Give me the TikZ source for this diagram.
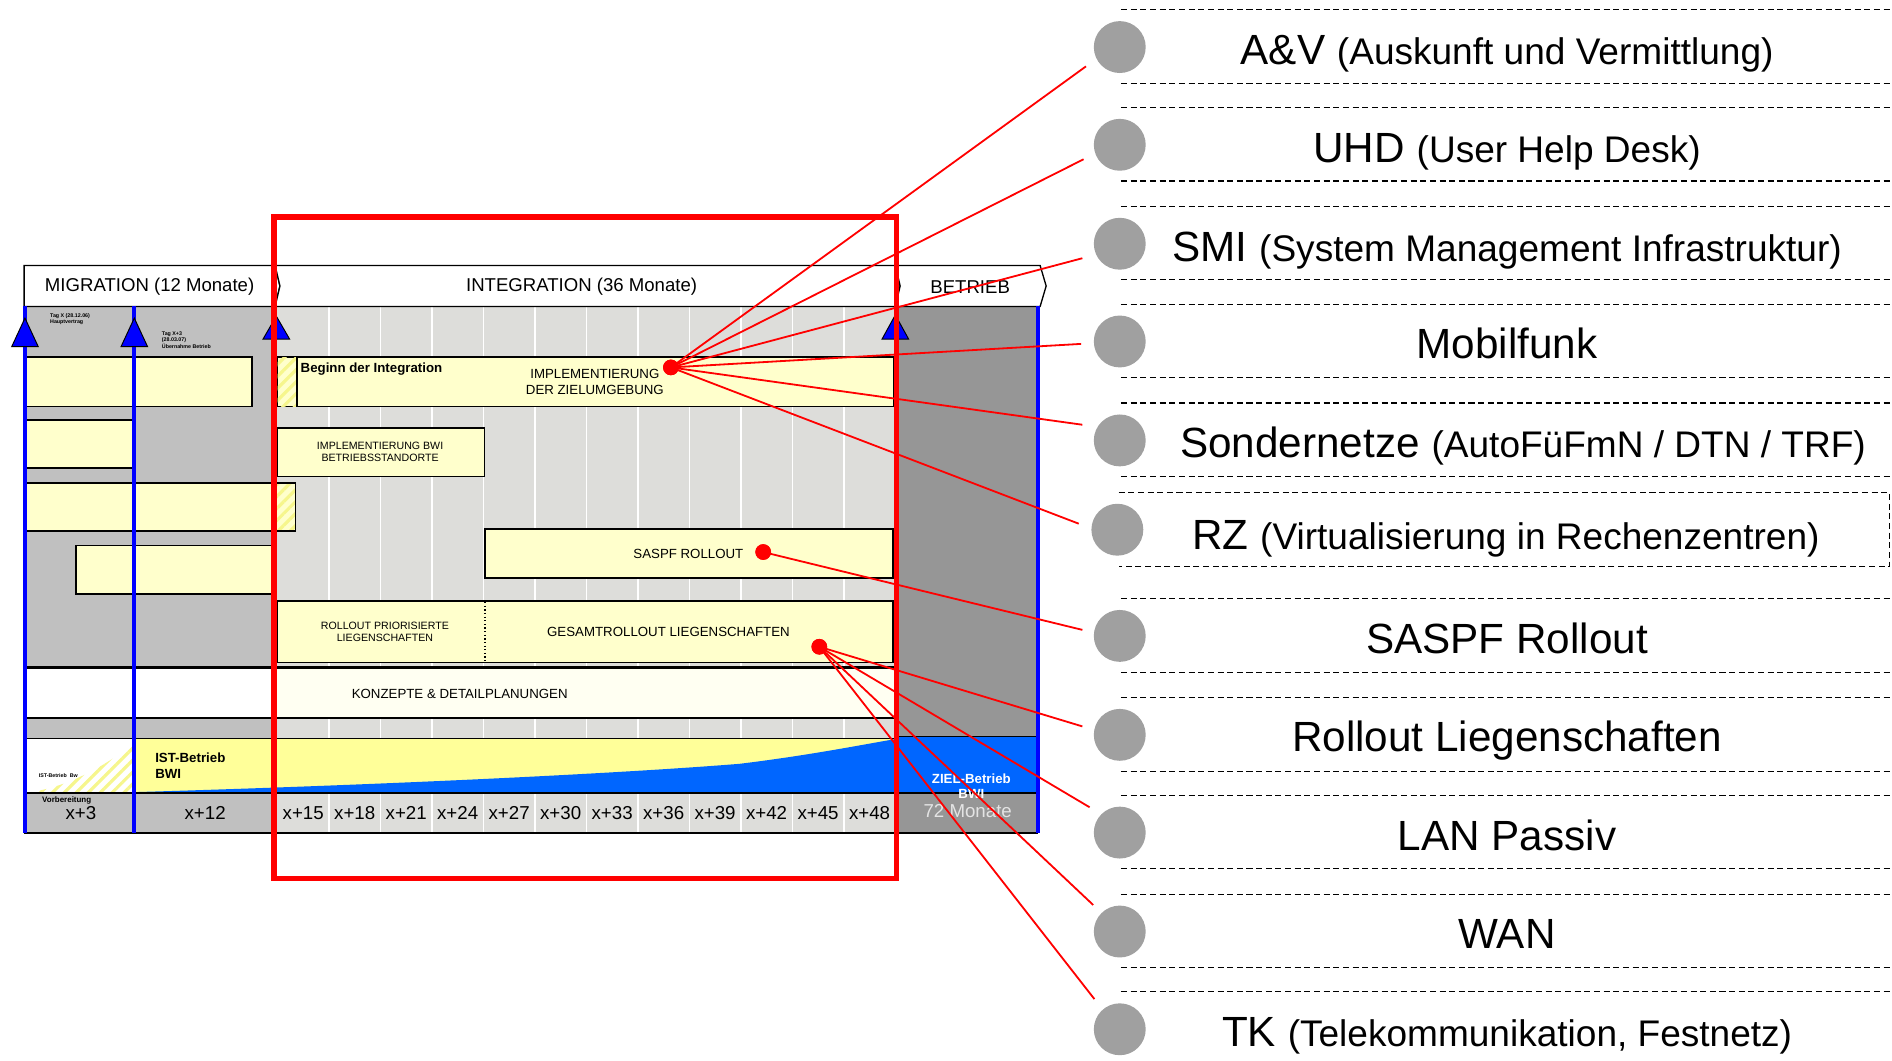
\documentclass[tikz,border=0pt]{standalone}
\usepackage{fontspec}
\setmainfont{Liberation Sans}
\usetikzlibrary{patterns.meta}
\definecolor{boxyel}{HTML}{FFFFCC}
\definecolor{istyel}{HTML}{FFFF99}
\definecolor{miggray}{HTML}{C0C0C0}
\definecolor{intgray}{HTML}{DDDDDA}
\definecolor{betgray}{HTML}{969696}
\definecolor{areablue}{HTML}{0066FF}
\definecolor{lineblue}{HTML}{0000FF}
\definecolor{dotgray}{HTML}{A0A0A0}
\definecolor{hatchyel}{HTML}{F6F68C}
\definecolor{konzyel}{HTML}{FFFFF2}
\definecolor{monate}{HTML}{E4E4E4}
\newcommand\setfs[1]{\fontsize{#1}{#1}\selectfont}
\newcommand\setfsl[2]{\fontsize{#1}{#2}\selectfont}
\begin{document}
\begin{tikzpicture}[x=1pt,y=-1pt,
  ybox/.style={draw=black,line width=1.4pt,fill=boxyel},
  hdr/.style={draw=black,line width=1.1pt,fill=white},
  tri/.style={draw=black,line width=0.8pt,fill=lineblue},
  vline/.style={lineblue,line width=3.6pt},
  hline/.style={black,line width=1.4pt},
  colsep/.style={white,line width=1.3pt},
  conn/.style={red,line width=1.5pt},
  rdot/.style={circle,fill=red,inner sep=0pt,minimum size=13pt},
  gdot/.style={circle,fill=dotgray,inner sep=0pt,minimum size=43pt},
  dsh/.style={black,line width=0.9pt,dash pattern=on 5pt off 3pt},
  lbl/.style={inner sep=0pt,align=center,font=\setfsl{11}{13}},
  sml/.style={inner sep=0pt,align=center,font=\setfsl{8.8}{10.5}},
  tiny/.style={inner sep=0pt,align=left,font=\bfseries\setfsl{4.4}{5.5},anchor=north west},
  big/.style={inner sep=0pt,anchor=base},
  hatch/.style={pattern={Lines[angle=45,distance=7pt,line width=2.6pt]},pattern color=hatchyel},
]
\useasboundingbox (0,0) rectangle (1568,878.5);

% ---------- chart body backgrounds ----------
\fill[miggray] (20,254) rectangle (228,553);
\fill[intgray] (228,254) rectangle (742,553);
\foreach \k in {1,...,11} \draw[colsep] ({230+42.667*\k},254) -- ++(0,299);
\fill[betgray] (742,254) rectangle (860,690);
\fill[areablue] (742,610) rectangle (860,656);

% Konzepte row
\fill[white] (20,553) rectangle (228,595);
\fill[konzyel] (228,553) rectangle (742,595);
% strip
\fill[miggray] (20,595) rectangle (228,612);
\fill[intgray] (228,595) rectangle (742,612);
\foreach \k in {1,...,11} \draw[colsep] ({230+42.667*\k},595) -- ++(0,17);
% IST row
\fill[white] (20,612) rectangle (110,657);
\path[hatch] (22,657) .. controls (60,652) and (90,632) .. (110,617) -- (110,657) -- cycle;
\fill[istyel] (110,612) rectangle (742,657);
\fill[areablue] (110,657) -- (110,656.5) .. controls (300,651) and (500,642) .. (613,633)
   .. controls (670,626) and (710,618) .. (742,612.5) -- (742,657) -- cycle;
% timeline row
\fill[miggray] (20,657) rectangle (228,690);
\fill[intgray] (228,657) rectangle (742,690);
\foreach \k in {1,...,11} \draw[colsep] ({230+42.667*\k},657) -- ++(0,33);

% horizontal rules
\draw[hline,line width=2.2pt] (20,553) -- (742,553);
\draw[hline] (20,595) -- (742,595);
\draw[hline] (20,612) -- (742,612);
\draw[black,line width=0.8pt] (742,610) -- (860,610);
\draw[hline] (20,657) -- (860,657);
\draw[hline,line width=1.8pt] (20,690) -- (860,690);

% ---------- header ----------
\draw[hdr] (20,220) -- (228,220) -- (232,237) -- (228,254) -- (20,254) -- cycle;
\draw[hdr] (228,220) -- (742,220) -- (746,237) -- (742,254) -- (228,254) -- (232,237) -- cycle;
\draw[hdr] (742,220) -- (862,220) -- (867,237) -- (862,254) -- (742,254) -- (746,237) -- cycle;
\node[lbl,font=\setfs{15.4}] (hmig) at (124,237.5) {MIGRATION (12 Monate)};
\node[lbl,font=\setfs{15.4}] (hint) at (482,237.5) {INTEGRATION (36 Monate)};
\node[lbl,font=\setfs{15.4}] (hbet) at (804,238) {BETRIEB};

% ---------- migration boxes ----------
\draw[ybox] (22,296) rectangle (209,337);
\draw[ybox] (22,348) rectangle (110,388);
\draw[ybox] (22,400) rectangle (245,440);
\path[hatch] (228,400) rectangle (245,440);
\draw[ybox,fill=none] (22,400) rectangle (245,440);
\draw[ybox] (63,452) rectangle (227,492);

% ---------- integration boxes ----------
\draw[ybox] (230,296) rectangle (741,337);
\path[hatch] (230,296) rectangle (246,337);
\draw[black,line width=1.4pt] (246,296) -- (246,337);
\node[inner sep=0pt,anchor=west,font=\bfseries\setfs{11}] (beg) at (249,306) {Beginn der Integration};
\node[lbl] (impl) at (493,316.8) {IMPLEMENTIERUNG\\DER ZIELUMGEBUNG};

\draw[ybox] (230,354.5) rectangle (401.5,395);
\node[sml] (bwi) at (315,374.5) {IMPLEMENTIERUNG BWI\\BETRIEBSSTANDORTE};

\draw[ybox] (402,438.5) rectangle (740,479);
\node[lbl] (saspf) at (570.5,459) {SASPF ROLLOUT};

\draw[ybox] (230,498) rectangle (740,549);
\draw[black,line width=1pt,dotted] (402,499) -- (402,548);
\node[sml,font=\setfsl{8.8}{9.6}] (prio) at (319,523.5) {ROLLOUT PRIORISIERTE\\LIEGENSCHAFTEN};
\node[lbl] (gesamt) at (554,524) {GESAMTROLLOUT LIEGENSCHAFTEN};

\node[lbl] (konz) at (381,575) {KONZEPTE \& DETAILPLANUNGEN};

% ---------- IST / ZIEL ----------
\node[inner sep=0pt,anchor=west,align=left,font=\bfseries\setfsl{11}{13.3}] (ist) at (128.5,634.3) {IST-Betrieb\\BWI};
\node[inner sep=0pt,font=\bfseries\setfs{4.4}] (istbw) at (48.3,643) {IST-Betrieb\ \ Bw};
\node[inner sep=0pt,align=center,text=white,font=\bfseries\setfsl{11}{13}] (ziel) at (805,651.5) {ZIEL-Betrieb\\BWI};

% ---------- timeline labels ----------
\node[lbl,font=\setfs{15.5}] (t3) at (67,673.5) {x+3};
\node[inner sep=0pt,font=\bfseries\setfs{6.6}] (vorb) at (55.3,663.5) {Vorbereitung};
\node[lbl,font=\setfs{15.5}] (t12) at (170,673.5) {x+12};
\foreach \k/\t in {0/15,1/18,2/21,3/24,4/27,5/30,6/33,7/36,8/39,9/42,10/45,11/48}
  \node[lbl,font=\setfs{15.5}] (tx\t) at ({251.3+42.667*\k},673.5) {x+\t};
\node[lbl,font=\setfs{15.5},text=monate] (t72) at (802,672.5) {72 Monate};

% ---------- vertical blue lines and milestones ----------
\draw[vline] (20.7,254) -- (20.7,690);
\draw[vline] (111.3,254) -- (111.3,690);
\draw[vline] (860.5,254) -- (860.5,690.5);
\draw[lineblue,line width=1pt] (741.5,254) -- (741.5,690);
\draw[tri] (20.7,263.6) -- (31.7,287.3) -- (9.7,287.3) -- cycle;
\draw[tri] (111.3,263.6) -- (122.3,287.3) -- (100.3,287.3) -- cycle;
\draw[tri] (229,262) -- (240,281) -- (218,281) -- cycle;
\draw[tri] (742,261) -- (753,281) -- (731,281) -- cycle;
\node[tiny] (tagx) at (41.4,259.5) {Tag X (28.12.06)\\Hauptvertrag};
\node[tiny] (tagx3) at (134,274.5) {Tag X+3\\(28.03.07)\\Übernahme Betrieb};

% ---------- red frame ----------
\draw[red,line width=4.5pt] (227,180) rectangle (743,728);

% ---------- right list ----------
\foreach \y in {8,69,89,150,171,232,252,313,334,395,496,557,578,639,659,720,741,802,822}
  \draw[dsh] (929,\y) -- (1568,\y);
\draw[dsh] (927,408.5) -- (1566,408.5) -- (1566,469.5) -- (927,469.5);

\node[gdot] (c1) at (928,39) {};
\node[gdot] (c2) at (928,120) {};
\node[gdot] (c3) at (928,202) {};
\node[gdot] (c4) at (928,283) {};
\node[gdot] (c5) at (928,365) {};
\node[gdot] (c6) at (926,439) {};
\node[gdot] (c7) at (928,527) {};
\node[gdot] (c8) at (928,609) {};
\node[gdot] (c9) at (928,690) {};
\node[gdot] (c10) at (928,772) {};
\node[gdot] (c11) at (928,853) {};

\node[big] (l1) at (1249,53.5) {\setfs{35}A\&V \setfs{30.7}(Auskunft und Vermittlung)};
\node[big] (l2) at (1249,134.5) {\setfs{35}UHD \setfs{30.7}(User Help Desk)};
\node[big] (l3) at (1249,216.5) {\setfs{35}SMI \setfs{30.7}(System Management Infrastruktur)};
\node[big] (l4) at (1249,297.5) {\setfs{35}Mobilfunk};
\node[big,anchor=base west] (l5) at (978,379.5) {\setfs{35}Sondernetze \setfs{30.7}(AutoFüFmN / DTN / TRF)};
\node[big] (l6) at (1248,455) {\setfs{35}RZ \setfs{30.7}(Virtualisierung in Rechenzentren)};
\node[big] (l7) at (1249,541.5) {\setfs{35}SASPF Rollout};
\node[big] (l8) at (1249,623) {\setfs{35}Rollout Liegenschaften};
\node[big] (l9) at (1249,704.5) {\setfs{35}LAN Passiv};
\node[big] (l10) at (1249,786) {\setfs{35}WAN};
\node[big] (l11) at (1249,867.5) {\setfs{35}TK \setfs{30.7}(Telekommunikation, Festnetz)};

% ---------- connectors ----------
\node[rdot] (d1) at (556,304.5) {};
\node[rdot] (d2) at (632.5,457.5) {};
\node[rdot] (d3) at (679,536) {};
\coordinate (e1) at (900,55);
\coordinate (e2) at (898,132);
\coordinate (e3) at (897,214);
\coordinate (e4) at (896,285);
\coordinate (e5) at (897,352);
\coordinate (e6) at (894,434);
\coordinate (e7) at (897,522);
\coordinate (e8) at (897,602);
\coordinate (e9) at (903,669);
\coordinate (e10) at (906,750);
\coordinate (e11) at (907,828);
\foreach \e in {e1,e2,e3,e4,e5,e6} \draw[conn] (d1.center) -- (\e);
\draw[conn] (d2.center) -- (e7);
\foreach \e in {e8,e9,e10,e11} \draw[conn] (d3.center) -- (\e);
\node[rdot] at (d1) {};
\node[rdot] at (d2) {};
\node[rdot] at (d3) {};
\end{tikzpicture}
\end{document}
